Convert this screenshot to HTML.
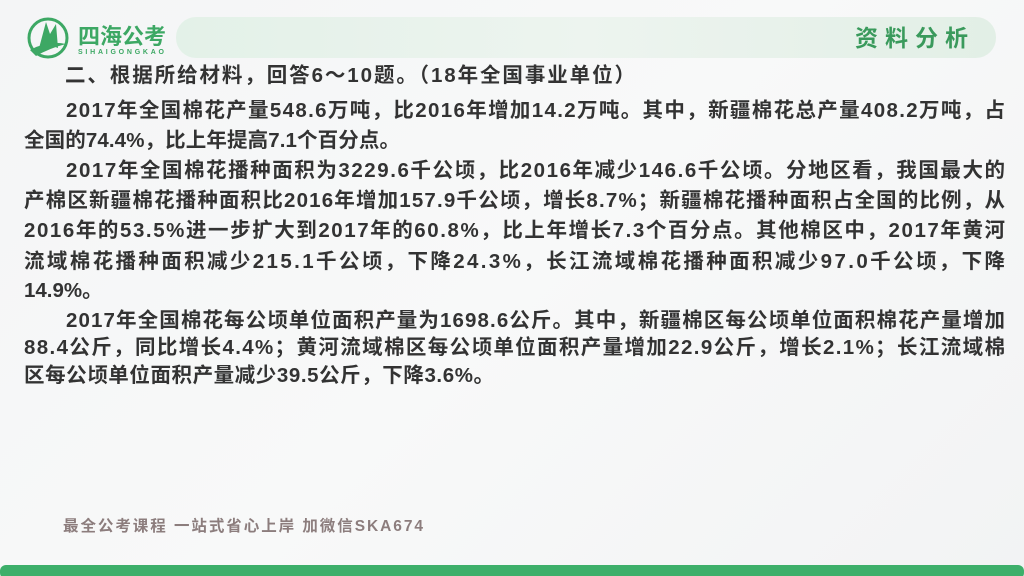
<!DOCTYPE html>
<html><head><meta charset="utf-8"><style>
html,body{margin:0;padding:0;}
body{width:1024px;height:576px;position:relative;overflow:hidden;background:linear-gradient(135deg,#f4f5f6 0%,#f8f9f9 50%,#f2f3f4 100%);font-family:"Liberation Sans","Noto Sans CJK SC",sans-serif;}
svg{position:absolute;left:0;top:0;}
</style></head><body>
<svg width="1024" height="576" viewBox="0 0 1024 576">
  <defs>
    <linearGradient id="bar" x1="0" x2="1" y1="0" y2="0">
      <stop offset="0" stop-color="#e3f1e8"/><stop offset="0.5" stop-color="#edf4ef"/><stop offset="1" stop-color="#e2efe6"/>
    </linearGradient>
  </defs>
  <g>
    <circle cx="48" cy="38" r="19" fill="none" stroke="#3da864" stroke-width="3"/>
    <path d="M38 52 L46 22 L50 34 L56 24 L58 48 Q50 44 38 52 Z" fill="#3da864"/>
    <path d="M30 50 Q48 40 66 44 Q50 48 36 56 Z" fill="#3da864"/>
    <text x="78" y="44" font-size="22" font-weight="bold" fill="#3da864" font-family="Liberation Sans,Noto Sans CJK SC,sans-serif" textLength="88">四海公考</text>
    <text x="78" y="54" font-size="7" font-weight="bold" fill="#3da864" textLength="86">SIHAIGONGKAO</text>
  </g>
  <rect x="176" y="17" width="820" height="41" rx="20" fill="url(#bar)"/>
  <text x="855" y="46" font-size="23" font-weight="bold" fill="#3a9a5c" textLength="113" font-family="Liberation Sans,Noto Sans CJK SC,sans-serif">资料分析</text>
  <g fill="#333" font-weight="bold" font-size="20.5" font-family="Liberation Sans,Noto Sans CJK SC,sans-serif">
    <text x="65" y="82" textLength="570">二、根据所给材料，回答6～10题。（18年全国事业单位）</text>
    <text x="66" y="117" textLength="939">2017年全国棉花产量548.6万吨，比2016年增加14.2万吨。其中，新疆棉花总产量408.2万吨，占</text>
    <text x="24" y="147" textLength="376">全国的74.4%，比上年提高7.1个百分点。</text>
    <text x="66" y="177" textLength="939">2017年全国棉花播种面积为3229.6千公顷，比2016年减少146.6千公顷。分地区看，我国最大的</text>
    <text x="24" y="207" textLength="981">产棉区新疆棉花播种面积比2016年增加157.9千公顷，增长8.7%；新疆棉花播种面积占全国的比例，从</text>
    <text x="24" y="237" textLength="981">2016年的53.5%进一步扩大到2017年的60.8%，比上年增长7.3个百分点。其他棉区中，2017年黄河</text>
    <text x="24" y="268" textLength="981">流域棉花播种面积减少215.1千公顷，下降24.3%，长江流域棉花播种面积减少97.0千公顷，下降</text>
    <text x="24" y="297">14.9%。</text>
    <text x="66" y="327" textLength="939">2017年全国棉花每公顷单位面积产量为1698.6公斤。其中，新疆棉区每公顷单位面积棉花产量增加</text>
    <text x="24" y="354" textLength="981">88.4公斤，同比增长4.4%；黄河流域棉区每公顷单位面积产量增加22.9公斤，增长2.1%；长江流域棉</text>
    <text x="24" y="382" textLength="470">区每公顷单位面积产量减少39.5公斤，下降3.6%。</text>
  </g>
  <text x="63" y="531" font-size="15.5" font-weight="bold" fill="#8c7d7d" textLength="360" font-family="Liberation Sans,Noto Sans CJK SC,sans-serif">最全公考课程 一站式省心上岸 加微信SKA674</text>
  <rect x="0" y="565" width="1024" height="14" rx="6" fill="#3daf6a"/>
</svg>
</body></html>
